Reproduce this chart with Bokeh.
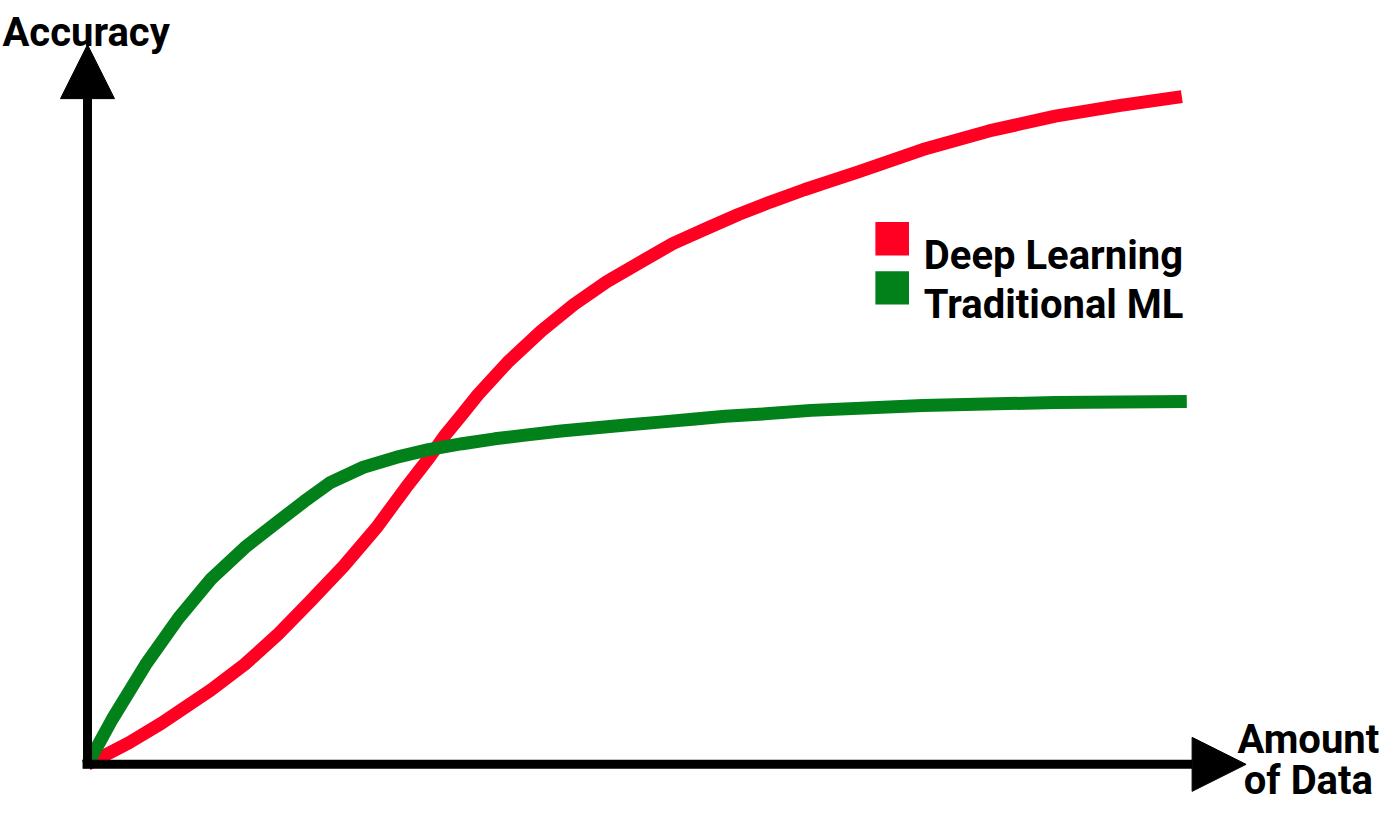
from bokeh.plotting import figure
from bokeh.models import Arrow, NormalHead, Label, Range1d
from bokeh.embed import file_html
from bokeh.resources import INLINE

# ---- data (units: amount of data / accuracy) ----
dl_x = [0, 4.2, 7.5, 12.5, 15.9, 19.2, 22.5, 25.9, 29.2, 32.2, 34.5, 36.2, 37.9, 39.5,
        42.5, 45.9, 49.2, 52.5, 55.9, 59.2, 62.5, 65.9, 69.2, 72.5, 74.9, 77.9, 84.5,
        91.2, 97.9, 104.5, 110.7]
dl_y = [0, 2.2, 4.2, 7.6, 10.2, 13.2, 16.6, 20.2, 24.1, 28.2, 31.2, 33.6, 35.7, 37.7,
        41.0, 44.2, 46.9, 49.2, 51.2, 53.1, 54.6, 56.1, 57.4, 58.6, 59.4, 60.4, 62.7,
        64.6, 66.1, 67.2, 68.1]

ml_x = [0, 2.5, 5.9, 9.2, 12.5, 15.9, 19.2, 21.9, 24.5, 27.9, 31.2, 34.5, 37.9, 41.2,
        44.5, 47.9, 51.2, 54.5, 57.9, 61.2, 64.5, 67.9, 73.2, 84.5, 97.9, 111.2]
ml_y = [0, 4.6, 10.2, 14.9, 18.9, 22.1, 24.7, 26.8, 28.7, 30.3, 31.3, 32.1, 32.7, 33.2,
        33.6, 34.0, 34.3, 34.6, 34.9, 35.2, 35.5, 35.7, 36.1, 36.6, 36.9, 37.0]

series_names = ["Deep Learning", "Traditional ML"]
series_colors = ["#FF0022", "#02801A"]
x_title = ["Amount", "of Data"]
y_title = "Accuracy"

FONT = "Roboto"
FSIZE = "40px"

W, H = 1384, 807
p = figure(width=W, height=H, output_backend="svg", toolbar_location=None,
           x_range=Range1d(-8.8, 131.2), y_range=Range1d(-4.4, 77.9),
           min_border=0, min_border_left=0, min_border_right=0,
           min_border_top=0, min_border_bottom=0)
p.axis.visible = False
p.grid.visible = False
p.outline_line_color = None
p.background_fill_color = "white"
p.border_fill_color = "white"

# ---- axes as arrows ----
X_END, Y_END = 117.2, 73.4
p.add_layout(Arrow(x_start=0, y_start=-0.4, x_end=0, y_end=Y_END,
                   line_width=9, line_color="black",
                   end=NormalHead(size=54, fill_color="black", line_color="black", line_width=1)))
p.add_layout(Arrow(x_start=-0.5, y_start=0, x_end=X_END, y_end=0,
                   line_width=9, line_color="black",
                   end=NormalHead(size=54, fill_color="black", line_color="black", line_width=1)))

# ---- curves ----
p.line(dl_x, dl_y, line_color=series_colors[0], line_width=13, line_cap="butt", line_join="round")
p.line(ml_x, ml_y, line_color=series_colors[1], line_width=13, line_cap="butt", line_join="round")

# ---- legend (manual squares + labels) ----
LEG_X, LEG_Y, LEG_STEP = 81.4, 53.6, 5.0
for i, (name, col) in enumerate(zip(series_names, series_colors)):
    cy = LEG_Y - i * LEG_STEP
    p.rect(x=[LEG_X], y=[cy], width=3.4, height=3.4, fill_color=col, line_color=None)
    p.add_layout(Label(x=LEG_X + 3.2, y=cy - 1.7, text=name, text_font=FONT,
                       text_font_size=FSIZE, text_font_style="bold", text_color="black",
                       text_baseline="alphabetic", text_align="left"))

# ---- axis titles ----
p.add_layout(Label(x=-8.6, y=74.6, text=y_title, text_font=FONT, text_font_size=FSIZE,
                   text_font_style="bold", text_color="black",
                   text_baseline="alphabetic", text_align="left"))
p.add_layout(Label(x=123.5, y=2.5, text=x_title[0], text_font=FONT, text_font_size=FSIZE,
                   text_font_style="bold", text_color="black",
                   text_baseline="alphabetic", text_align="center"))
p.add_layout(Label(x=123.5, y=-1.6, text=x_title[1], text_font=FONT, text_font_size=FSIZE,
                   text_font_style="bold", text_color="black",
                   text_baseline="alphabetic", text_align="center"))

open("out.html", "w").write(file_html(p, INLINE))
